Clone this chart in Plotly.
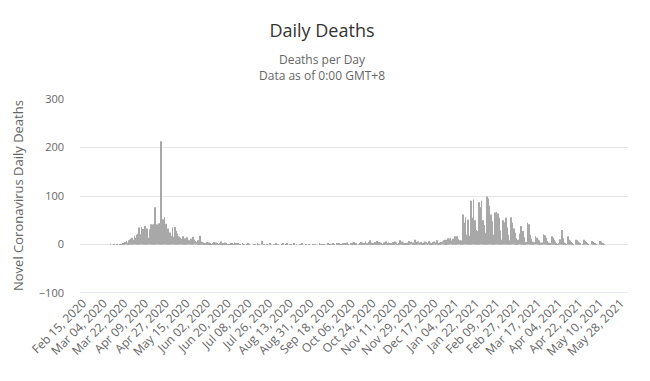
import pandas as pd
import plotly.graph_objects as go

# Daily deaths, one list per month (first date: 2020-02-15)
start_date = "2020-02-15"
feb_2020 = [0] * 15
mar_2020 = [0, 0, 0, 0, 0, 0, 0, 0, 0, 1, 0, 0, 1, 0, 0, 1, 0, 1, 0, 1, 2, 3, 5, 7, 4, 9, 10, 12, 14, 10, 18]
apr_2020 = [14, 20, 22, 35, 21, 36, 32, 28, 38, 25, 33, 14, 31, 42, 40, 41, 42, 77, 42, 41, 44, 40, 213, 28, 52, 56, 43, 31, 33, 20]
may_2020 = [25, 18, 35, 16, 36, 28, 22, 17, 16, 14, 12, 17, 8, 13, 12, 15, 10, 9, 12, 8, 16, 10, 7, 5, 9, 4, 18, 6, 5, 4, 3]
jun_2020 = [2, 5, 3, 4, 2, 1, 3, 5, 2, 4, 3, 1, 2, 6, 2, 1, 3, 4, 2, 1, 0, 1, 3, 2, 1, 4, 2, 1, 3, 1]
jul_2020 = [1, 0, 2, 1, 0, 0, 1, 2, 1, 0, 0, 0, 1, 1, 0, 2, 1, 0, 0, 7, 0, 1, 0, 1, 0, 0, 2, 0, 0, 1, 0]
aug_2020 = [2, 0, 1, 0, 0, 1, 3, 0, 0, 1, 2, 0, 1, 1, 0, 0, 2, 0, 1, 0, 0, 1, 0, 2, 0, 0, 1, 0, 0, 1, 0]
sep_2020 = [0, 1, 0, 1, 0, 0, 0, 2, 1, 1, 0, 1, 0, 0, 2, 1, 0, 1, 0, 2, 1, 0, 3, 1, 2, 0, 1, 2, 3, 1]
oct_2020 = [2, 4, 1, 0, 3, 2, 4, 5, 2, 3, 0, 1, 3, 5, 4, 2, 3, 6, 2, 3, 5, 9, 4, 3, 2, 5, 4, 7, 3, 5, 4]
nov_2020 = [3, 1, 4, 5, 6, 3, 4, 2, 1, 3, 5, 4, 6, 4, 1, 2, 9, 5, 6, 4, 3, 2, 1, 4, 7, 5, 6, 4, 2, 10]
dec_2020 = [3, 5, 6, 4, 5, 2, 1, 4, 6, 5, 3, 7, 4, 2, 3, 5, 6, 4, 9, 3, 2, 4, 5, 6, 9, 10, 3, 10, 13, 12, 14]
jan_2021 = [8, 12, 6, 17, 14, 17, 11, 9, 8, 6, 62, 45, 56, 20, 51, 10, 18, 90, 55, 93, 50, 30, 28, 8, 87, 77, 90, 50, 40, 12, 24]
feb_2021 = [99, 95, 80, 62, 48, 20, 12, 66, 67, 64, 55, 29, 10, 8, 50, 46, 55, 35, 20, 6, 9, 56, 45, 33, 24, 13, 4, 10]
mar_2021 = [22, 38, 12, 28, 15, 4, 5, 45, 42, 20, 12, 6, 3, 5, 17, 14, 10, 8, 4, 2, 4, 21, 19, 14, 7, 4, 3, 2, 17, 14, 10]
apr_2021 = [6, 3, 1, 2, 11, 9, 30, 13, 4, 2, 1, 17, 10, 8, 5, 2, 1, 0, 10, 9, 6, 4, 2, 0, 1, 10, 7, 5, 2, 1]
may_2021 = [0, 0, 7, 5, 3, 2, 1, 0, 0, 7, 6, 3, 2, 1]

months = [feb_2020, mar_2020, apr_2020, may_2020, jun_2020, jul_2020, aug_2020,
          sep_2020, oct_2020, nov_2020, dec_2020, jan_2021, feb_2021, mar_2021,
          apr_2021, may_2021]
deaths = [v for m in months for v in m]
dates = pd.date_range(start_date, periods=len(deaths), freq="D")

tick_dates = pd.date_range("2020-02-15", "2021-05-28", freq="18D")
tick_labels = [d.strftime("%b %d, %Y") for d in tick_dates]

title_text = "Daily Deaths"
subtitle_lines = ["Deaths per Day", "Data as of 0:00 GMT+8"]
y_title = "Novel Coronavirus Daily Deaths"

FONT = "Open Sans"
W, H = 642, 373          # page body has an 8px margin
PLOT_L, PLOT_R = 72, 620
PLOT_T, PLOT_B = 91, 285
PLOT_W = PLOT_R - PLOT_L
PLOT_H = PLOT_B - PLOT_T

fig = go.Figure(go.Bar(x=dates, y=deaths, marker_color="#a8a8a8",
                       marker_line_width=0, name="Daily Deaths"))

fig.update_layout(
    width=W, height=H,
    margin=dict(l=PLOT_L, r=W - PLOT_R, t=PLOT_T, b=H - PLOT_B, autoexpand=False),
    paper_bgcolor="white", plot_bgcolor="white",
    font=dict(family=FONT, color="#666666", size=11),
    bargap=0.25,
    showlegend=False,
    title=dict(text=title_text, x=314 / W, xanchor="center", xref="container",
               y=1 - 23 / H, yref="container", yanchor="middle",
               font=dict(family=FONT, size=18, color="#333333")),
    annotations=[
        dict(text="<br>".join(subtitle_lines), xref="paper", yref="paper",
             x=(314 - PLOT_L) / PLOT_W, y=(PLOT_B - 60) / PLOT_H,
             xanchor="center", yanchor="middle",
             showarrow=False, font=dict(family=FONT, size=12, color="#666666")),
        dict(text=y_title, xref="paper", yref="paper", x=-62 / PLOT_W, y=0.5,
             xanchor="center", yanchor="middle", textangle=-90, showarrow=False,
             font=dict(family=FONT, size=13, color="#666666")),
    ],
    xaxis=dict(
        type="date", automargin=False,
        range=["2020-02-12 12:00", "2021-06-03 12:00"],
        tickvals=list(tick_dates), ticktext=tick_labels,
        tickangle=-45, tickfont=dict(size=12, color="#666666"),
        showgrid=False, showline=False, zeroline=False, ticks="",
    ),
    yaxis=dict(
        range=[-100, 300], tickvals=[-100, 0, 100, 200, 300], automargin=False,
        ticktext=["−100", "0", "100", "200", "300"],
        gridcolor="#e6e6e6", gridwidth=1, zeroline=False,
        showline=False, ticks="", ticklabelstandoff=15,
        tickfont=dict(size=11, color="#666666"),
    ),
    shapes=[dict(type="line", xref="paper", yref="y", x0=0, x1=1, y0=-100, y1=-100,
                 line=dict(color="#ccd6eb", width=1))],
)

fig.write_html("out.html")
